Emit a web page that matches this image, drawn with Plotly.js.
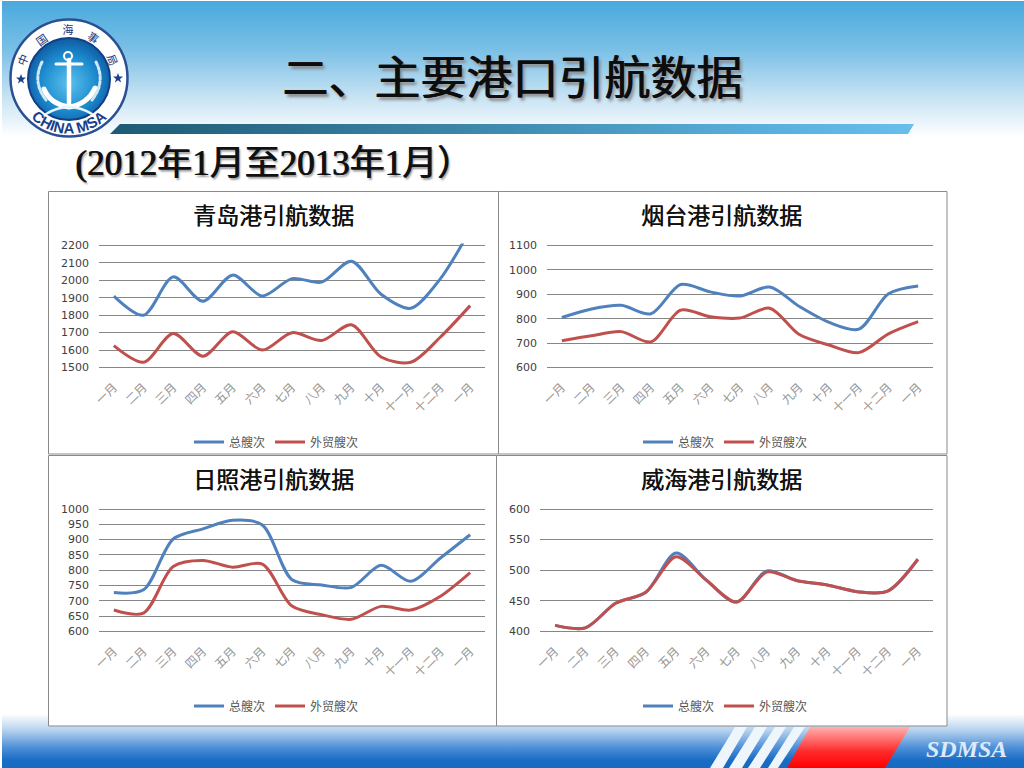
<!DOCTYPE html>
<html><head><meta charset="utf-8">
<script src="https://cdn.plot.ly/plotly-3.0.1.min.js"></script>
<style>
html,body{margin:0;padding:0;background:#fff;width:1024px;height:768px;overflow:hidden}
#bg,#chart{position:absolute;left:0;top:0;width:1024px;height:768px}
</style></head><body>
<svg id="bg" width="1024" height="768" viewBox="0 0 1024 768" xmlns="http://www.w3.org/2000/svg">
<defs>
<linearGradient id="top" x1="0" y1="0" x2="0" y2="1"><stop offset="0" stop-color="#49a9dd"/><stop offset=".35" stop-color="#79bfe6"/><stop offset=".7" stop-color="#c6e2f3"/><stop offset="1" stop-color="#ffffff"/></linearGradient>
<linearGradient id="bot" x1="0" y1="0" x2="0" y2="1"><stop offset="0" stop-color="#ffffff"/><stop offset=".3" stop-color="#b6d2ee"/><stop offset=".62" stop-color="#4f90d8"/><stop offset=".85" stop-color="#1a6cc4"/><stop offset="1" stop-color="#166ac2"/></linearGradient>
<linearGradient id="bar" x1="0" y1="0" x2="1" y2="0"><stop offset="0" stop-color="#1e5a72"/><stop offset=".45" stop-color="#3d87ab"/><stop offset=".8" stop-color="#58aedb"/><stop offset="1" stop-color="#69bfeb"/></linearGradient>
<linearGradient id="red" x1="0" y1="0" x2="0" y2="1"><stop offset="0" stop-color="#ffb0b0"/><stop offset=".6" stop-color="#ff2a2a"/><stop offset="1" stop-color="#ff0000"/></linearGradient>
<radialGradient id="disc" cx=".5" cy=".55" r=".6"><stop offset="0" stop-color="#5cc0ee"/><stop offset=".55" stop-color="#1d8ccf"/><stop offset="1" stop-color="#0a4f98"/></radialGradient>
<path id="arcBot" d="M 19 100 A 54 54 0 0 0 119 100"/>
</defs>
<rect x="2" y="1" width="1022" height="136" fill="url(#top)"/>
<polygon points="110,134 120,124 914,124 908,134" fill="url(#bar)"/>
<rect x="2" y="714" width="1022" height="54" fill="url(#bot)"/>
<g fill="#eef5fb">
<polygon points="735,727 747,727 723,768 710,768"/>
<polygon points="755,727 767,727 742,768 729,768"/>
<polygon points="775,727 786,727 760,768 748,768"/>
<polygon points="794,727 805,727 778,768 768,768"/>
</g>
<polygon points="810,727 910,727 885,768 787,768" fill="url(#red)"/>
<g>
<circle cx="69" cy="78" r="58.5" fill="#fff" stroke="#2a4f93" stroke-width="2.5"/>
<circle cx="69" cy="79" r="41" fill="url(#disc)" stroke="#123f86" stroke-width="2"/>
<g fill="none" stroke="#fff" stroke-linecap="round">
<circle cx="68" cy="56" r="4" stroke-width="2"/>
<path d="M69 60 V104" stroke-width="4.5"/>
<path d="M56 64 H82" stroke-width="3"/>
<path d="M44 89 Q50 104 69 107 Q88 104 95 88" stroke-width="5"/>
<path d="M42 62 Q32 82 46 100 M96 62 Q106 82 92 100" stroke="#cfe9f8" stroke-width="3" stroke-dasharray="3 2"/>
<path d="M46 114 Q69 100 92 114" stroke="#e6f4fc" stroke-width="2.5"/>
</g>
<g font-family="Noto Sans CJK SC" font-size="11" fill="#16357c" text-anchor="middle">
<text transform="translate(23,60) rotate(-68)" y="4">中</text>
<text transform="translate(42,40) rotate(-35)" y="4">国</text>
<text transform="translate(68,30)" y="4">海</text>
<text transform="translate(93,38) rotate(35)" y="4">事</text>
<text transform="translate(112,60) rotate(68)" y="4">局</text>
</g>
<text font-family="Liberation Sans" font-weight="bold" font-size="15" fill="#1a3f8c" text-anchor="middle"><textPath href="#arcBot" startOffset="50%">CHINA MSA</textPath></text>
<polygon points="21,74 22.3,77.6 26,77.6 23,79.9 24.1,83.5 21,81.3 17.9,83.5 19,79.9 16,77.6 19.7,77.6" fill="#1a3f8c"/>
<polygon points="118,73 119.3,76.6 123,76.6 120,78.9 121.1,82.5 118,80.3 114.9,82.5 116,78.9 113,76.6 116.7,76.6" fill="#1a3f8c"/>
</g>
</svg>
<div id="chart"></div>
<script>
// Shared categories and legend names
var months = ["一月","二月","三月","四月","五月","六月","七月","八月","九月","十月","十一月","十二月","一月"];
var totalName = "总艘次";
var foreignName = "外贸艘次";
var positions = [0,1,2,3,4,5,6,7,8,9,10,11,12];

// 青岛港
var qingdaoTotal   = [1910,1800,2020,1880,2030,1910,2010,1990,2110,1920,1840,2010,2290];
var qingdaoForeign = [1625,1530,1695,1565,1705,1600,1700,1655,1745,1560,1530,1675,1855];
// 烟台港
var yantaiTotal    = [805,840,855,820,940,910,893,930,850,785,757,902,934];
var yantaiForeign  = [710,730,747,705,835,808,803,843,735,692,661,738,788];
// 日照港
var rizhaoTotal    = [727,736,902,935,963,948,769,752,744,816,764,840,916];
var rizhaoForeign  = [670,660,812,832,810,820,683,655,640,682,670,715,792];
// 威海港
var weihaiTotal    = [410,406,446,464,528,484,448,499,483,476,465,466,518];
var weihaiForeign  = [410,406,446,464,522,484,448,497,483,476,465,466,518];

var panelTitles = ["青岛港引航数据","烟台港引航数据","日照港引航数据","威海港引航数据"];
var mainTitle = "二、主要港口引航数据";
var subTitle = "(2012年1月至2013年1月）";

var W=1024,H=768,PAD=2;
var cjk='"Noto Sans CJK SC","Noto Sans",sans-serif';
var BLUE='#4F81BD',RED='#C0504D',GRID='#868686';

var panels=[
 {t:qingdaoTotal,f:qingdaoForeign,box:[48.5,191.5,498.5,454],px:[99,485],py:[245.5,367.5],r:[1500,2200],d:100,tx:273,lx:189,ly:442},
 {t:yantaiTotal,f:yantaiForeign,box:[498.5,191.5,947,454],px:[547,933],py:[245.5,367.5],r:[600,1100],d:100,tx:721,lx:638,ly:442},
 {t:rizhaoTotal,f:rizhaoForeign,box:[48.5,455.5,496.5,726],px:[99,485],py:[509,631.5],r:[600,1000],d:50,tx:273,lx:189,ly:706},
 {t:weihaiTotal,f:weihaiForeign,box:[496.5,455.5,947,726],px:[540,933],py:[509,631.5],r:[400,600],d:50,tx:721,lx:638,ly:706}
];
var data=[],shapes=[],annotations=[],layout={};
panels.forEach(function(p,i){
  var n=i+1,sfx=i?String(n):'';
  var lg='legend'+sfx;
  data.push({x:positions,y:p.t,name:totalName,type:'scatter',mode:'lines',xaxis:'x'+sfx,yaxis:'y'+sfx,legend:lg,
    line:{color:BLUE,width:3,shape:'spline',smoothing:0.85},hoverinfo:'skip'});
  data.push({x:positions,y:p.f,name:foreignName,type:'scatter',mode:'lines',xaxis:'x'+sfx,yaxis:'y'+sfx,legend:lg,
    line:{color:RED,width:3,shape:'spline',smoothing:0.85},hoverinfo:'skip'});
  // a small pad keeps the first and last gridlines inside the plot area
  var perPx=(p.r[1]-p.r[0])/(p.py[1]-p.py[0]);
  layout['xaxis'+sfx]={domain:[p.px[0]/W,p.px[1]/W],range:[-0.5,12.5],tickmode:'array',tickvals:positions,ticktext:months,
    tickangle:-45,showgrid:false,zeroline:false,showline:false,ticks:'outside',ticklen:5,tickcolor:'rgba(0,0,0,0)',
    tickfont:{family:cjk,size:12,color:'#969696'},anchor:'y'+sfx,fixedrange:true};
  layout['yaxis'+sfx]={domain:[1-(p.py[1]+PAD)/H,1-(p.py[0]-PAD)/H],range:[p.r[0]-PAD*perPx,p.r[1]+PAD*perPx],dtick:p.d,tick0:p.r[0],
    showgrid:true,gridcolor:GRID,gridwidth:1,zeroline:false,showline:false,ticks:'',ticklabelstandoff:9,
    tickfont:{family:'"DejaVu Sans"',size:11,color:'#404040'},anchor:'x'+sfx,fixedrange:true};
  layout[lg]={orientation:'h',x:p.lx/W,y:1-p.ly/H,xanchor:'left',yanchor:'middle',bgcolor:'rgba(0,0,0,0)',
    font:{family:cjk,size:12,color:'#555555'},itemwidth:30,tracegroupgap:0};
  shapes.push({type:'rect',xref:'paper',yref:'paper',layer:'below',x0:p.box[0]/W,x1:p.box[2]/W,y0:1-p.box[3]/H,y1:1-p.box[1]/H,
    fillcolor:'#ffffff',line:{color:'#8a8a8a',width:1}});
  annotations.push({text:panelTitles[i],xref:'paper',yref:'paper',x:p.tx/W,y:1-(p.box[1]+22.5)/H,xanchor:'center',yanchor:'middle',
    showarrow:false,font:{family:cjk,size:23,color:'#111111',shadow:'0.5px 0 0 #111111'}});
});
annotations.push({text:subTitle,xref:'paper',yref:'paper',x:73/W,y:1-163/H,xanchor:'left',yanchor:'middle',showarrow:false,
  font:{family:'"Liberation Serif","Noto Sans CJK SC",serif',size:35,color:'#111111',weight:400,shadow:'1px 0 0 #111111, 2px 2px 2px #999999'}});
annotations.push({text:'SDMSA',xref:'paper',yref:'paper',x:966/W,y:1-748.5/H,xanchor:'center',yanchor:'middle',showarrow:false,
  font:{family:'"Liberation Serif",serif',size:24,color:'#dfeaf8',weight:700,style:'italic'}});
layout.title={text:mainTitle,x:512/W,y:1-78/H,xref:'paper',yref:'paper',xanchor:'center',yanchor:'middle',
  font:{family:cjk,size:46,color:'#0d0d0d',weight:400,shadow:'1px 0 0 #0d0d0d, 3px 3px 3px #8a8a8a'}};
layout.width=W;layout.height=H;layout.margin={l:0,r:0,t:0,b:0};
layout.paper_bgcolor='rgba(0,0,0,0)';layout.plot_bgcolor='rgba(0,0,0,0)';
layout.shapes=shapes;layout.annotations=annotations;layout.showlegend=true;
Plotly.newPlot('chart',data,layout,{displayModeBar:false,staticPlot:true});
</script>
</body></html>
